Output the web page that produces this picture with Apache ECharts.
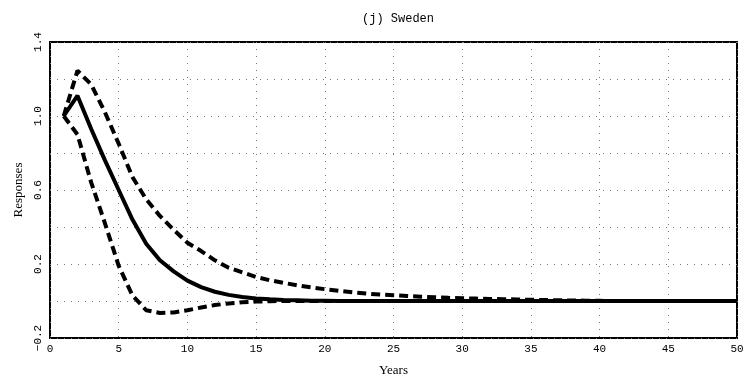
<!DOCTYPE html>
<html>
<head>
<meta charset="utf-8">
<script src="https://cdn.jsdelivr.net/npm/echarts@6/dist/echarts.min.js"></script>
<style>
  html, body { margin: 0; padding: 0; background: #fff; }
  #chart { width: 750px; height: 382px; }
</style>
</head>
<body>
<div id="chart"></div>
<script>
// Impulse responses for Sweden, years 1..50
const years = Array.from({ length: 50 }, (_, i) => i + 1);

const response = [
  1.0, 1.11, 0.93, 0.76, 0.60, 0.44, 0.31, 0.22, 0.16, 0.11,
  0.075, 0.05, 0.033, 0.022, 0.014, 0.009, 0.006, 0.004, 0.002, 0.001,
  0, 0, 0, 0, 0, 0, 0, 0, 0, 0,
  0, 0, 0, 0, 0, 0, 0, 0, 0, 0,
  0, 0, 0, 0, 0, 0, 0, 0, 0, 0
];

const upperBand = [
  1.0, 1.245, 1.17, 1.02, 0.85, 0.67, 0.55, 0.46, 0.385, 0.315,
  0.27, 0.22, 0.18, 0.155, 0.13, 0.112, 0.098, 0.085, 0.074, 0.064,
  0.055, 0.047, 0.04, 0.035, 0.031, 0.027, 0.023, 0.02, 0.017, 0.015,
  0.013, 0.011, 0.01, 0.008, 0.007, 0.005, 0.004, 0.003, 0.002, 0.001,
  0, 0, 0, 0, 0, 0, 0, 0, 0, 0
];

const lowerBand = [
  1.0, 0.9, 0.64, 0.42, 0.19, 0.03, -0.05, -0.065, -0.062, -0.05,
  -0.035, -0.022, -0.013, -0.007, -0.003, -0.001, 0, 0, 0, 0,
  0, 0, 0, 0, 0, 0, 0, 0, 0, 0,
  0, 0, 0, 0, 0, 0, 0, 0, 0, 0,
  0, 0, 0, 0, 0, 0, 0, 0, 0, 0
];

// y tick labels shown every other gridline
const yLabelValues = [-0.2, 0.2, 0.6, 1.0, 1.4];

const pair = arr => years.map((y, i) => [y, arr[i]]);

const mono = 'Liberation Mono';
const serif = 'Liberation Serif';

const chart = echarts.init(document.getElementById('chart'), null, { renderer: 'canvas' });

const gridDots = { show: true, lineStyle: { color: '#777', width: 1, type: [1, 6] } };

chart.setOption({
  animation: false,
  backgroundColor: '#fff',
  title: {
    text: '(j) Sweden',
    left: 393,
    textAlign: 'center',
    top: 8,
    textStyle: { fontFamily: mono, fontSize: 12, fontWeight: 'normal', color: '#000' }
  },
  grid: {
    left: 50, right: 13, top: 42, bottom: 44,
    show: true, borderColor: '#000', borderWidth: 2, backgroundColor: 'transparent'
  },
  xAxis: {
    type: 'value',
    min: 0, max: 50, interval: 5,
    name: 'Years',
    nameLocation: 'middle',
    nameGap: 26,
    nameTextStyle: { fontFamily: serif, fontSize: 13, color: '#000' },
    axisLine: { show: false },
    axisTick: { show: false },
    axisLabel: { fontFamily: mono, fontSize: 11, color: '#000', margin: 6 },
    splitLine: gridDots
  },
  yAxis: {
    type: 'value',
    min: -0.2, max: 1.4, interval: 0.2,
    name: 'Responses',
    nameLocation: 'middle',
    nameGap: 22,
    nameTextStyle: { fontFamily: serif, fontSize: 13, color: '#000' },
    axisLine: { show: false },
    axisTick: { show: false },
    axisLabel: {
      rotate: 90,
      fontFamily: mono, fontSize: 11, color: '#000', margin: 6,
      formatter: v => {
        const hit = yLabelValues.find(t => Math.abs(t - v) < 1e-6);
        if (hit === undefined) return '';
        return hit < 0 ? '\u2212' + Math.abs(hit).toFixed(1) : hit.toFixed(1);
      }
    },
    splitLine: gridDots
  },
  series: [
    {
      name: 'Upper',
      type: 'line',
      data: pair(upperBand),
      symbol: 'none',
      lineStyle: { color: '#000', width: 4, type: [9, 5] },
      z: 3
    },
    {
      name: 'Lower',
      type: 'line',
      data: pair(lowerBand),
      symbol: 'none',
      lineStyle: { color: '#000', width: 4, type: [9, 5] },
      z: 3
    },
    {
      name: 'Response',
      type: 'line',
      data: pair(response),
      symbol: 'none',
      lineStyle: { color: '#000', width: 4 },
      z: 4
    }
  ]
});
</script>
</body>
</html>
